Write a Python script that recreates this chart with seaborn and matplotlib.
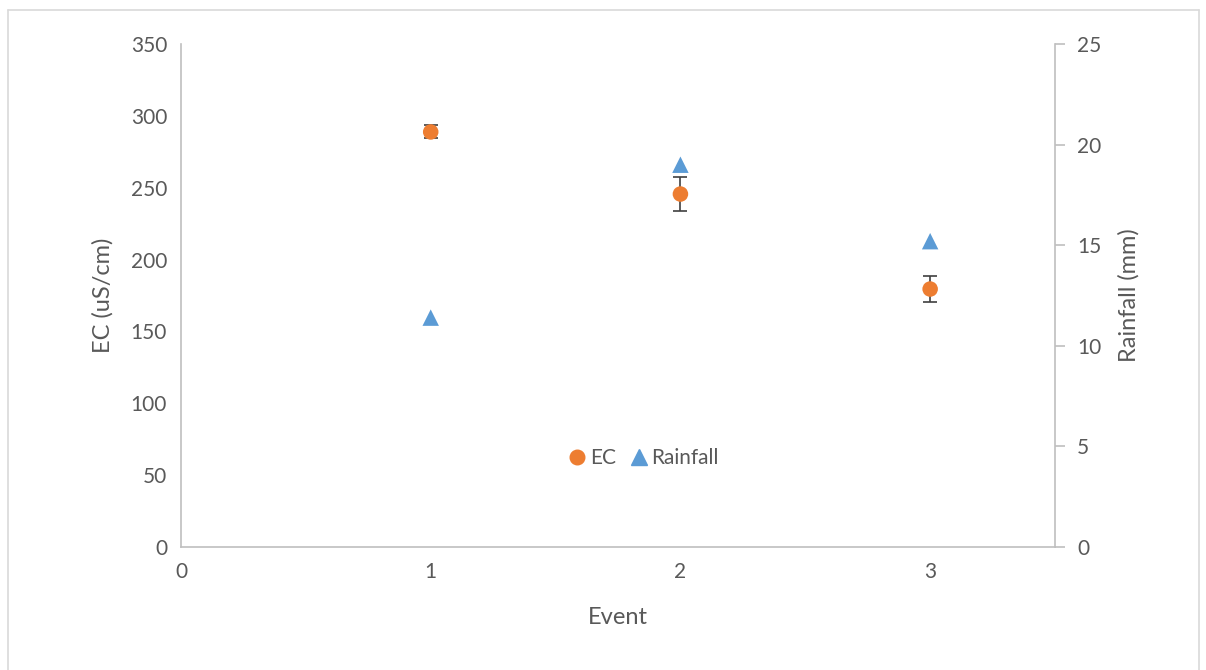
import matplotlib
matplotlib.use("Agg")
import matplotlib.pyplot as plt
from matplotlib.lines import Line2D
import seaborn as sns
import pandas as pd

# Event data
events = [1, 2, 3]
ec_values = [288.8, 245.6, 179.5]
ec_errors = [4.5, 12.0, 9.0]
rainfall_values = [11.4, 19.0, 15.2]

x_ticks = [0, 1, 2, 3]
ec_ticks = [0, 50, 100, 150, 200, 250, 300, 350]
rain_ticks = [0, 5, 10, 15, 20, 25]

ORANGE = "#ED7D31"
BLUE = "#5B9BD5"
TEXT = "#595959"
AXIS = "#BFBFBF"

sns.set_theme(style="white")
plt.rcParams["font.family"] = ["Lato", "DejaVu Sans"]

df = pd.DataFrame({"Event": events, "EC": ec_values, "err": ec_errors,
                   "Rainfall": rainfall_values})

fig = plt.figure(figsize=(12.06, 6.70), dpi=100)
ax = fig.add_axes([181 / 1206, 1 - 547 / 670, (1055 - 181) / 1206, (547 - 44) / 670])
ax2 = ax.twinx()

# EC with error bars on the left axis
ax.errorbar(df["Event"], df["EC"], yerr=df["err"], fmt="none", ecolor="#404040",
            elinewidth=1.2, capsize=5, capthick=1.2, zorder=2)
sns.scatterplot(data=df, x="Event", y="EC", ax=ax, color=ORANGE, marker="o", s=125,
                edgecolor="none", zorder=3, label="EC", legend=False)

# Rainfall on the right axis
sns.scatterplot(data=df, x="Event", y="Rainfall", ax=ax2, color=BLUE, marker="^", s=140,
                edgecolor="none", zorder=3, label="Rainfall", legend=False)

ax.set_xlim(0, 3.5)
ax.set_ylim(0, 350)
ax2.set_ylim(0, 25)
ax.set_xticks(x_ticks)
ax.set_yticks(ec_ticks)
ax2.set_yticks(rain_ticks)

for a in (ax, ax2):
    a.spines["top"].set_visible(False)
    for sp in a.spines.values():
        sp.set_color(AXIS)
        sp.set_linewidth(1.2)
ax.spines["right"].set_visible(False)
ax2.spines["left"].set_visible(False)
ax2.spines["bottom"].set_visible(False)

ax.tick_params(axis="both", length=0, labelsize=15, labelcolor=TEXT, pad=10)
ax.tick_params(axis="x", pad=11)
ax2.tick_params(axis="y", length=7, width=1.2, color=AXIS, direction="out",
                labelsize=15, labelcolor=TEXT, pad=9)

ax.set_xlabel("Event", fontsize=17, color=TEXT, labelpad=18)
ax.set_ylabel("EC (uS/cm)", fontsize=17, color=TEXT, labelpad=12)
ax2.set_ylabel("Rainfall (mm)", fontsize=17, color=TEXT, labelpad=12)
ax.grid(False)
ax2.grid(False)

handles = [
    Line2D([], [], marker="o", color=ORANGE, linestyle="none", markersize=10.5),
    Line2D([], [], marker="^", color=BLUE, linestyle="none", markersize=11),
]
leg = ax.legend(handles, ["EC", "Rainfall"], loc="center", bbox_to_anchor=(0.527, 0.177),
                ncol=2, frameon=False, fontsize=15, handletextpad=0.0,
                columnspacing=0.5, handlelength=1.2, borderpad=0)
for t in leg.get_texts():
    t.set_color(TEXT)

# Chart area border
for xs, ys in (([8, 8], [670, 10]), ([8, 1199], [10, 10]), ([1199, 1199], [10, 670])):
    fig.add_artist(Line2D([x / 1206 for x in xs], [1 - y / 670 for y in ys],
                          color="#D9D9D9", linewidth=1.2, transform=fig.transFigure))

fig.savefig("out.png", dpi=100, facecolor="white")
